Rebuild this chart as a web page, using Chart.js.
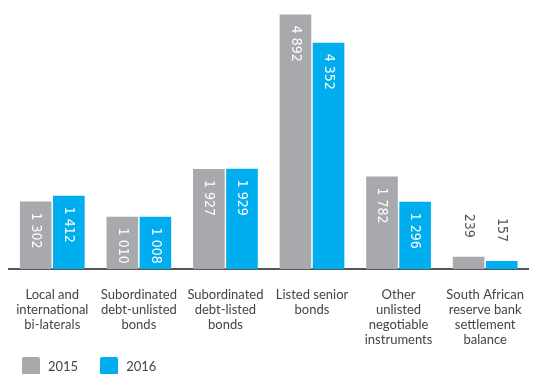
<!DOCTYPE html>
<html>
<head>
<meta charset="utf-8">
<script src="https://cdn.jsdelivr.net/npm/chart.js@4"></script>
<style>
  html, body { margin: 0; padding: 0; background: #fff; overflow: hidden; }
  #wrap { width: 534px; height: 374px; position: relative; }
  .legend { position: absolute; top: 357px; left: 22px; display: flex; font: 13px Lato, sans-serif; color: #444; }
  .legend span { display: flex; align-items: center; margin-right: 22px; }
  .legend i { display: inline-block; width: 18px; height: 18px; border-radius: 2px; margin-right: 8px; }
</style>
</head>
<body>
<div id="wrap">
  <canvas id="barChart"></canvas>
  <div class="legend" id="legend"></div>
</div>
<script>
// FUNDING BAR CHART
const labels = [
  ['Local and', 'international', 'bi-laterals'],
  ['Subordinated', 'debt-unlisted', 'bonds'],
  ['Subordinated', 'debt-listed', 'bonds'],
  ['Listed senior', 'bonds'],
  ['Other', 'unlisted', 'negotiable', 'instruments'],
  ['South African', 'reserve bank', 'settlement', 'balance'],
];

const values2015 = [1302, 1010, 1927, 4892, 1782, 239];
const values2016 = [1412, 1008, 1929, 4352, 1296, 157];

const grey = '#a7a9ac';
const blue = '#00aeef';

// formats 4892 as "4 892"
function fmt(v) {
  return v.toString().replace(/\B(?=(\d{3})+(?!\d))/g, ' ');
}

// rotated value labels: white inside tall bars, dark above short ones
const valueLabels = {
  id: 'valueLabels',
  afterDatasetsDraw(chart) {
    const ctx = chart.ctx;
    ctx.save();
    ctx.font = '14px "DejaVu Sans Condensed", "DejaVu Sans"';
    ctx.textBaseline = 'middle';
    chart.data.datasets.forEach((ds, i) => {
      chart.getDatasetMeta(i).data.forEach((bar, j) => {
        const txt = fmt(ds.data[j]);
        const h = bar.base - bar.y;
        ctx.save();
        ctx.translate(bar.x, bar.y);
        ctx.rotate(Math.PI / 2);
        if (h > 30) {
          ctx.fillStyle = '#fff';
          ctx.textAlign = 'left';
          ctx.fillText(txt, 11, 0);
        } else {
          ctx.fillStyle = '#555';
          ctx.textAlign = 'right';
          ctx.fillText(txt, -19, 0);
        }
        ctx.restore();
      });
    });
    ctx.restore();
  }
};

const data = {
  labels: labels,
  datasets: [{
    label: '2015',
    data: values2015,
    backgroundColor: grey,
    borderWidth: 0,
  }, {
    label: '2016',
    data: values2016,
    backgroundColor: blue,
    borderWidth: 0,
  }]
};

const config = {
  type: 'bar',
  data: data,
  options: {
    responsive: true,
    maintainAspectRatio: false,
    animation: false,
    datasets: {
      bar: {
        categoryPercentage: 0.765,
        barPercentage: 0.955,
      }
    },
    layout: {
      padding: { left: 9, right: 0, top: 9, bottom: 17 }
    },
    plugins: {
      legend: { display: false },
      tooltip: { enabled: false }
    },
    scales: {
      x: {
        grid: { display: false },
        border: { display: true, color: '#555', width: 2 },
        ticks: {
          color: '#444',
          font: { family: 'Lato', size: 13, lineHeight: 1.15 },
          maxRotation: 0,
          autoSkip: false,
          padding: 10,
        }
      },
      y: {
        display: false,
        min: 0,
        max: 5000,
      }
    }
  },
  plugins: [valueLabels]
};

var barChart = document.getElementById('barChart');
const myBarChart = new Chart(barChart, config);

// legend built from the dataset colours
document.getElementById('legend').innerHTML = data.datasets.map(ds =>
  '<span><i style="background:' + ds.backgroundColor + '"></i>' + ds.label + '</span>'
).join('');
</script>
</body>
</html>
